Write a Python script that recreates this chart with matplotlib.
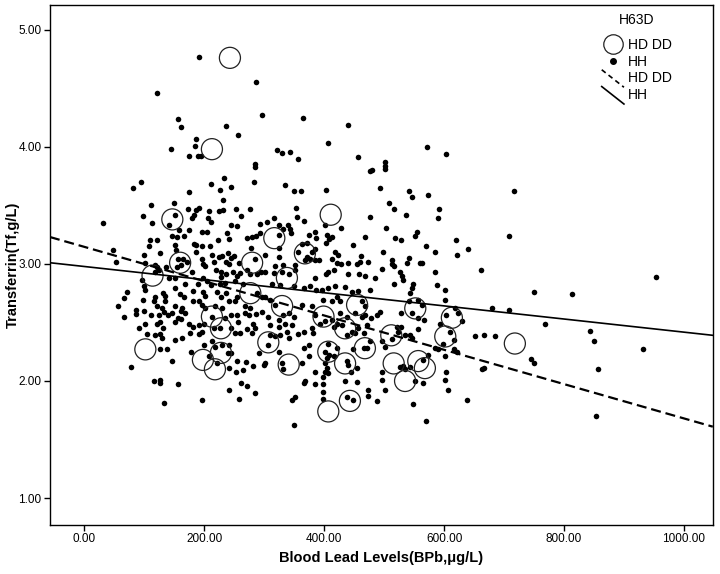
import numpy as np
import matplotlib
matplotlib.use("Agg")
import matplotlib.pyplot as plt
from matplotlib.lines import Line2D

plt.rcParams['font.family'] = ['Liberation Sans', 'DejaVu Sans']

# HH group (dots)
hh_bpb_top = [192, 286, 121, 296, 156, 161, 237, 256, 187, 184,
              145, 174, 190, 195, 285, 364, 440, 406, 322, 330,
              343, 356, 457, 502, 571, 604]
hh_tf_top = [4.77, 4.55, 4.46, 4.27, 4.24, 4.17, 4.18, 4.10, 4.07, 4.01,
             3.98, 3.92, 3.92, 3.92, 3.85, 4.25, 4.19, 4.03, 3.97, 3.95,
             3.96, 3.90, 3.91, 3.87, 4.00, 3.94]

hh_bpb_right = [716, 708, 640, 661, 953, 750, 813, 680, 709, 769,
                843, 850, 931, 652, 667, 685, 745, 750, 663, 667,
                856, 638, 854]
hh_tf_right = [3.62, 3.24, 3.13, 2.95, 2.89, 2.76, 2.74, 2.62, 2.61, 2.49,
               2.43, 2.34, 2.27, 2.38, 2.39, 2.38, 2.19, 2.15, 2.10, 2.11,
               2.10, 1.84, 1.70]

hh_bpb_left_hi = [95, 82, 285, 233, 211, 283, 245, 226, 175, 232,
                  112, 150, 191, 187, 183, 180, 173, 208, 224, 231,
                  253, 276, 98, 152, 142, 206, 211, 262, 32, 113,
                  245, 255, 293, 175, 158, 196, 204, 238, 147, 155,
                  122, 109, 166, 223, 242, 271, 279, 286, 293, 183,
                  187, 197, 209, 108, 152, 153, 278, 48, 127, 100,
                  213, 230, 240, 244, 249, 186, 156, 164, 155, 162,
                  172, 53, 101, 196, 198, 202, 217, 224, 237, 241,
                  258, 285, 118, 125, 118, 122, 137, 180, 97, 100,
                  102, 220, 228, 228, 237, 248, 254, 260, 272, 277,
                  288, 295, 141, 152, 168, 190, 198, 204, 211, 227,
                  234, 252, 264, 71, 288, 296, 132, 135, 152, 182,
                  160, 166, 198, 202, 222, 228, 237, 254, 66, 118,
                  116, 98, 134, 182, 192, 196, 241, 252, 57, 87,
                  121, 130, 152, 163, 202, 218, 230, 268, 277]
hh_tf_left_hi = [3.70, 3.65, 3.83, 3.73, 3.68, 3.70, 3.66, 3.63, 3.61, 3.55,
                 3.50, 3.52, 3.48, 3.46, 3.42, 3.39, 3.47, 3.45, 3.45, 3.46,
                 3.47, 3.47, 3.41, 3.42, 3.33, 3.39, 3.36, 3.41, 3.35, 3.35,
                 3.33, 3.32, 3.34, 3.29, 3.29, 3.27, 3.27, 3.26, 3.24, 3.23,
                 3.20, 3.20, 3.24, 3.20, 3.21, 3.22, 3.23, 3.24, 3.26, 3.17,
                 3.16, 3.15, 3.15, 3.15, 3.16, 3.12, 3.14, 3.12, 3.09, 3.08,
                 3.08, 3.07, 3.09, 3.05, 3.07, 3.10, 3.04, 3.04, 2.97, 2.99,
                 3.02, 3.02, 3.01, 3.04, 3.00, 2.98, 3.02, 3.06, 3.02, 3.00,
                 3.01, 3.04, 2.99, 2.95, 2.93, 2.97, 2.97, 2.93, 2.86, 2.81,
                 2.78, 2.95, 2.93, 2.89, 2.91, 2.93, 2.90, 2.92, 2.95, 2.91,
                 2.91, 2.93, 2.88, 2.88, 2.83, 2.83, 2.88, 2.85, 2.82, 2.83,
                 2.84, 2.85, 2.83, 2.76, 2.75, 2.72, 2.75, 2.73, 2.79, 2.77,
                 2.74, 2.72, 2.76, 2.73, 2.76, 2.72, 2.75, 2.72, 2.71, 2.72,
                 2.68, 2.69, 2.68, 2.68, 2.68, 2.65, 2.68, 2.68, 2.64, 2.61,
                 2.64, 2.62, 2.64, 2.62, 2.62, 2.64, 2.62, 2.64, 2.62]

hh_bpb_left_lo = [66, 87, 100, 111, 125, 133, 140, 147, 157, 168,
                  161, 213, 235, 244, 254, 268, 275, 287, 296, 102,
                  91, 121, 127, 131, 152, 162, 175, 182, 191, 199,
                  227, 217, 257, 245, 252, 260, 271, 282, 285, 279,
                  104, 118, 127, 130, 152, 163, 177, 192, 196, 126,
                  138, 200, 213, 218, 230, 241, 178, 240, 244, 208,
                  291, 147, 221, 254, 270, 282, 299, 241, 253, 264,
                  78, 116, 126, 127, 157, 261, 272, 284, 241, 196,
                  258, 133]
hh_tf_left_lo = [2.55, 2.57, 2.60, 2.56, 2.56, 2.59, 2.56, 2.58, 2.54, 2.58,
                 2.60, 2.55, 2.54, 2.56, 2.56, 2.58, 2.56, 2.57, 2.59, 2.49,
                 2.45, 2.49, 2.50, 2.45, 2.50, 2.53, 2.49, 2.46, 2.48, 2.49,
                 2.45, 2.45, 2.50, 2.45, 2.41, 2.41, 2.44, 2.49, 2.45, 2.41,
                 2.40, 2.39, 2.40, 2.37, 2.35, 2.37, 2.41, 2.40, 2.42, 2.27,
                 2.27, 2.31, 2.34, 2.29, 2.31, 2.31, 2.25, 2.24, 2.24, 2.21,
                 2.24, 2.17, 2.15, 2.17, 2.16, 2.13, 2.14, 2.11, 2.08, 2.09,
                 2.12, 2.00, 2.01, 1.98, 1.97, 1.98, 1.96, 1.90, 1.92, 1.84,
                 1.85, 1.81]

hh_bpb_mid_hi = [477, 480, 502, 502, 335, 349, 361, 403, 494, 541,
                 547, 573, 353, 354, 367, 509, 516, 592, 477, 536,
                 590, 317, 305, 401, 428, 503, 324, 332, 339, 343,
                 345, 324, 375, 385, 387, 405, 408, 413, 403, 468,
                 518, 528, 552, 555, 620, 363, 371, 449, 570, 357,
                 372, 380, 385, 324, 419, 423, 499, 585, 622, 302,
                 462, 324, 368, 377, 385, 391, 413, 421, 428, 440,
                 455, 460, 473, 514, 513, 517, 541, 538, 560, 564,
                 331, 318, 352, 351, 302, 316, 330, 341, 385, 406,
                 416, 403, 440, 459, 468, 485, 497, 527, 530, 531,
                 585, 516, 549, 546, 544, 588, 602, 602, 313, 327,
                 349, 366, 377, 386, 396, 407, 418, 435, 446, 457,
                 477, 399, 413, 427, 421, 463, 468, 541, 557, 563,
                 363, 379, 302, 310, 318, 618]
hh_tf_mid_hi = [3.79, 3.80, 3.81, 3.84, 3.67, 3.62, 3.62, 3.63, 3.65, 3.62,
                3.57, 3.59, 3.48, 3.40, 3.37, 3.52, 3.47, 3.47, 3.40, 3.42,
                3.39, 3.39, 3.36, 3.33, 3.31, 3.31, 3.33, 3.30, 3.33, 3.30,
                3.26, 3.25, 3.25, 3.27, 3.22, 3.25, 3.21, 3.23, 3.18, 3.23,
                3.22, 3.20, 3.24, 3.27, 3.20, 3.17, 3.18, 3.16, 3.15, 3.10,
                3.06, 3.10, 3.13, 3.14, 3.10, 3.08, 3.10, 3.10, 3.08, 3.08,
                3.07, 3.06, 3.03, 3.04, 3.03, 3.03, 3.04, 3.01, 3.00, 3.01,
                3.00, 3.02, 3.02, 3.03, 3.00, 2.98, 3.05, 3.01, 3.01, 3.01,
                2.99, 2.98, 2.99, 2.95, 2.93, 2.92, 2.93, 2.91, 2.88, 2.93,
                2.95, 2.91, 2.91, 2.91, 2.90, 2.88, 2.96, 2.93, 2.90, 2.86,
                2.93, 2.83, 2.83, 2.79, 2.75, 2.82, 2.78, 2.69, 2.83, 2.82,
                2.81, 2.79, 2.81, 2.78, 2.78, 2.79, 2.81, 2.80, 2.76, 2.77,
                2.78, 2.69, 2.68, 2.68, 2.72, 2.68, 2.64, 2.68, 2.69, 2.65,
                2.65, 2.64, 2.72, 2.69, 2.65, 2.62]

hh_bpb_mid_lo = [307, 324, 332, 341, 349, 310, 324, 335, 346, 310,
                 318, 327, 338, 341, 307, 324, 357, 366, 379, 382,
                 385, 393, 402, 413, 416, 421, 430, 438, 446, 452,
                 427, 438, 452, 463, 468, 479, 457, 466, 471, 488,
                 493, 514, 521, 529, 524, 496, 502, 535, 543, 546,
                 529, 546, 557, 567, 557, 593, 604, 610, 616, 599,
                 624, 630, 585, 590, 616, 621, 407, 402, 408, 416,
                 421, 466, 471, 449, 477, 366, 374, 374, 330, 332,
                 363, 405, 402, 405, 402, 407, 399, 399, 399, 399,
                 438, 440, 445, 455, 385, 527, 532, 543, 535, 565,
                 574, 552, 565, 496, 496, 502, 435, 455, 368, 366,
                 385, 474, 474, 488, 438, 449, 346, 352, 602, 606,
                 602, 604, 549, 570, 350, 302]
hh_tf_mid_lo = [2.55, 2.52, 2.56, 2.58, 2.55, 2.48, 2.46, 2.49, 2.48, 2.39,
                2.38, 2.39, 2.42, 2.37, 2.31, 2.25, 2.40, 2.42, 2.45, 2.41,
                2.56, 2.49, 2.51, 2.52, 2.46, 2.49, 2.48, 2.39, 2.42, 2.41,
                2.58, 2.55, 2.58, 2.55, 2.56, 2.54, 2.45, 2.41, 2.48, 2.56,
                2.59, 2.36, 2.46, 2.46, 2.42, 2.34, 2.29, 2.39, 2.39, 2.37,
                2.58, 2.58, 2.54, 2.52, 2.44, 2.49, 2.56, 2.42, 2.35, 2.32,
                2.58, 2.51, 2.28, 2.27, 2.27, 2.25, 2.32, 2.25, 2.22, 2.21,
                2.28, 2.28, 2.28, 2.27, 2.34, 2.28, 2.21, 2.31, 2.15, 2.10,
                2.15, 2.20, 2.15, 2.11, 2.08, 2.07, 2.03, 1.97, 1.91, 1.85,
                2.17, 2.14, 2.08, 2.11, 2.08, 2.12, 2.13, 2.12, 2.10, 2.18,
                2.22, 2.00, 1.98, 2.08, 2.01, 1.92, 2.00, 1.99, 2.00, 1.98,
                1.97, 1.92, 1.87, 1.83, 1.86, 1.84, 1.84, 1.86, 2.01, 1.92,
                2.21, 2.08, 1.80, 1.66, 1.62, 2.15]

# HD DD group (open circles)
hd_bpb = [243, 213, 147, 160, 280, 114, 277, 213, 228, 307,
          102, 198, 228, 218, 411, 317, 368, 338, 330, 455,
          552, 399, 435, 512, 602, 613, 407, 468, 341, 435,
          516, 557, 568, 535, 443, 407, 718]
hd_tf = [4.76, 3.98, 3.38, 3.01, 3.01, 2.90, 2.75, 2.55, 2.45, 2.33,
         2.27, 2.18, 2.24, 2.10, 3.42, 3.22, 3.09, 2.88, 2.64, 2.65,
         2.62, 2.55, 2.45, 2.39, 2.38, 2.54, 2.25, 2.28, 2.14, 2.15,
         2.15, 2.17, 2.11, 2.00, 1.83, 1.74, 2.32]

# fit lines (intercept at BPb = 0, slope per ug/L)
fit_hd = (3.146, -0.001466)
fit_hh = (2.978, -0.000561)

x_ticks = [0, 200, 400, 600, 800, 1000]
y_ticks = [1, 2, 3, 4, 5]


class DiagonalHandler:
    """Draw legend lines as short diagonal strokes, like SPSS does."""

    def legend_artist(self, legend, orig_handle, fontsize, handlebox):
        x0, y0 = -handlebox.xdescent, -handlebox.ydescent
        w, h = handlebox.width, handlebox.height
        line = Line2D([x0, x0 + w], [y0 + h * 1.3, y0 - h * 0.5],
                      color='black', linewidth=orig_handle.get_linewidth(),
                      linestyle=orig_handle.get_linestyle(),
                      transform=handlebox.get_transform())
        if orig_handle.get_linestyle() == '--':
            line.set_dashes((3, 2.2))
        handlebox.add_artist(line)
        return line


def main():
    hh_bpb = np.concatenate([hh_bpb_top, hh_bpb_right, hh_bpb_left_hi,
                             hh_bpb_left_lo, hh_bpb_mid_hi, hh_bpb_mid_lo])
    hh_tf = np.concatenate([hh_tf_top, hh_tf_right, hh_tf_left_hi,
                            hh_tf_left_lo, hh_tf_mid_hi, hh_tf_mid_lo])

    fig = plt.figure(figsize=(7.2, 5.74), dpi=100)
    ax = fig.add_axes([0.0694, 0.0854, 0.9206, 0.9056])

    xlim = (-57, 1048)
    ax.set_xlim(xlim)
    ax.set_ylim(0.77, 5.21)

    ax.scatter(hd_bpb, hd_tf, s=230, facecolors='none', edgecolors='#222222',
               linewidths=0.9, zorder=3)
    ax.scatter(hh_bpb, hh_tf, s=16, color='black', linewidths=0, zorder=2)

    xs = np.array(xlim)
    ax.plot(xs, fit_hd[0] + fit_hd[1] * xs, color='black', linewidth=1.6,
            dashes=(4.5, 2.2), zorder=4)
    ax.plot(xs, fit_hh[0] + fit_hh[1] * xs, color='black', linewidth=1.2,
            zorder=4)

    ax.set_xticks(x_ticks)
    ax.set_xticklabels([f"{v:.2f}" for v in x_ticks])
    ax.set_yticks(y_ticks)
    ax.set_yticklabels([f"{v:.2f}" for v in y_ticks])
    ax.tick_params(direction='out', length=4, width=1, labelsize=8.5,
                   color='black', pad=2)
    for side in ax.spines.values():
        side.set_linewidth(1)

    ax.set_xlabel('Blood Lead Levels(BPb,\u03bcg/L)', fontsize=10.5,
                  fontweight='bold', labelpad=4)
    ax.set_ylabel('Transferrin(Tf,g/L)', fontsize=10.5, fontweight='bold')
    ax.yaxis.set_label_coords(-0.045, 0.5)

    handles = [
        Line2D([], [], marker='o', linestyle='none', markersize=14,
               markerfacecolor='none', markeredgecolor='#222222',
               markeredgewidth=0.9),
        Line2D([], [], marker='o', linestyle='none', markersize=4,
               color='black'),
        Line2D([], [], color='black', linestyle='--', linewidth=1.2),
        Line2D([], [], color='black', linestyle='-', linewidth=1.2),
    ]
    labels = ['HD DD', 'HH', 'HD DD', 'HH']
    diag = DiagonalHandler()
    leg = fig.legend(handles, labels, title='H63D', loc='upper left',
                     bbox_to_anchor=(592 / 720, 1 - 3 / 574), frameon=False,
                     fontsize=10, title_fontsize=10, handlelength=1.6,
                     handletextpad=0.3, labelspacing=0.2, borderpad=0.2,
                     handler_map={handles[2]: diag, handles[3]: diag})
    leg._legend_box.sep = 8

    fig.savefig('out.png', dpi=100)


if __name__ == "__main__":
    main()
